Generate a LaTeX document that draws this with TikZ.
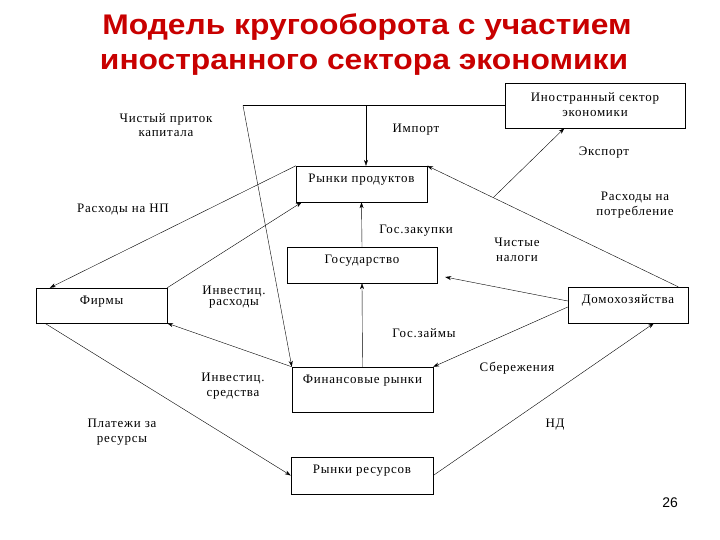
\documentclass[tikz,border=0pt]{standalone}
\usepackage{fontspec}
\setmainfont{Liberation Serif}[LetterSpace=6]
\setsansfont{Liberation Sans}
\newfontfamily\titlefont{Liberation Sans}[FakeStretch=1.12]
\usepackage{tikz}
\usetikzlibrary{arrows.meta,calc,positioning}
\definecolor{titlered}{RGB}{200,0,0}

\begin{document}
\begin{tikzpicture}[
x=1bp, y=-1bp,
font=\fontsize{13}{14.5}\selectfont,
title/.style={font=\titlefont\bfseries\fontsize{28.5}{34}\selectfont, text=titlered, inner sep=0pt, anchor=base},
box/.style={draw, thin, inner sep=0pt},
boxtext/.style={anchor=north, yshift=-8bp, text height=8.5bp, inner sep=0pt},
lbl/.style={align=center, inner sep=0pt},
flow/.style={thin, -{Stealth[length=6bp,width=4bp]}}
]
    % Frame
    \useasboundingbox (0,0) rectangle (720,540);

    % Title
    \node[title] (title1) at (367,35) {Модель кругооборота с участием};
    \node[title] (title2) at (364,70) {иностранного сектора экономики};

    % Sectors and markets
    \node[box, minimum width=180bp, minimum height=45bp,
      label={[boxtext, align=center, text height=, yshift=-2bp, name=fstxt]north:Иностранный сектор\\экономики}] (fs) at (595,105.5) {};
    \node[box, minimum width=131bp, minimum height=36bp,
      label={[boxtext, name=prodtxt]north:Рынки продуктов}] (prod) at (361.5,184) {};
    \node[box, minimum width=150bp, minimum height=36bp,
      label={[boxtext, name=govtxt]north:Государство}] (gov) at (362,265) {};
    \node[box, minimum width=131bp, minimum height=35bp,
      label={[boxtext, name=firmstxt]north:Фирмы}] (firms) at (101.5,305.5) {};
    \node[box, minimum width=120bp, minimum height=36bp,
      label={[boxtext, name=hhtxt]north:Домохозяйства}] (hh) at (628,305) {};
    \node[box, minimum width=141bp, minimum height=45bp,
      label={[boxtext, name=fintxt]north:Финансовые рынки}] (fin) at (362.5,389.5) {};
    \node[box, minimum width=142bp, minimum height=37bp,
      label={[boxtext, name=restxt]north:Рынки ресурсов}] (res) at (362,475.5) {};

    \coordinate (cap) at (243,105.5);
    \coordinate (imp) at (366,105.5);
    \coordinate (hhtop) at ($(hh.north east)+(-10,0)$);
    \coordinate (exp) at ($(prod.north east)!0.263!(hhtop)$);

    % Flows
    \draw[thin] (fs.west) -- (cap);
    \draw[flow] (cap) -- (fin.north west);
    \draw[flow] (imp) -- (imp |- prod.north);
    \draw[flow] (hhtop) -- (prod.north east);
    \draw[flow] (exp) -- ($(fs.south west)!0.33!(fs.south east)$);
    \draw[flow] (prod.north west) -- ($(firms.north west)+(14,0)$);
    \draw[flow] (firms.north east) -- ($(prod.south west)+(6,0)$);
    \draw[flow] (gov.north) -- (prod.south);
    \draw[flow] ($(hh.west)+(0,-4)$) -- ($(gov.east)+(8,12)$);
    \draw[flow] (fin.north) -- (gov.south);
    \draw[flow] ($(hh.west)+(0,2)$) -- (fin.north east);
    \draw[flow] (fin.north west) -- (firms.south east);
    \draw[flow] ($(firms.south west)+(9,0)$) -- (res.west);
    \draw[flow] (res.east) -- ($(hh.south)+(26,0)$);

    % Flow labels
    \node[lbl] (capl) at (166,125) {Чистый приток\\капитала};
    \node[lbl] (impl) at (416,130) {Импорт};
    \node[lbl] (expl) at (604,153) {Экспорт};
    \node[lbl] (consl) at (635,205) {Расходы на\\потребление};
    \node[lbl] (npl) at (123,210) {Расходы на НП};
    \node[lbl] (zakl) at (416,231) {Гос.закупки};
    \node[lbl] (taxl) at (517,250) {Чистые\\налоги};
    \node[lbl] (invl) at (234,297) {Инвестиц.\\[-3bp]расходы};
    \node[lbl] (zaiml) at (424,333) {Гос.займы};
    \node[lbl] (savl) at (517,368) {Сбережения};
    \node[lbl] (invsl) at (233,386) {Инвестиц.\\средства};
    \node[lbl] (payl) at (122,432) {Платежи за\\ресурсы};
    \node[lbl] (ndl) at (555,425) {НД};

    \node[font=\sffamily\fontsize{14}{16}\selectfont] (page) at (670,503) {26};
\end{tikzpicture}
\end{document}
